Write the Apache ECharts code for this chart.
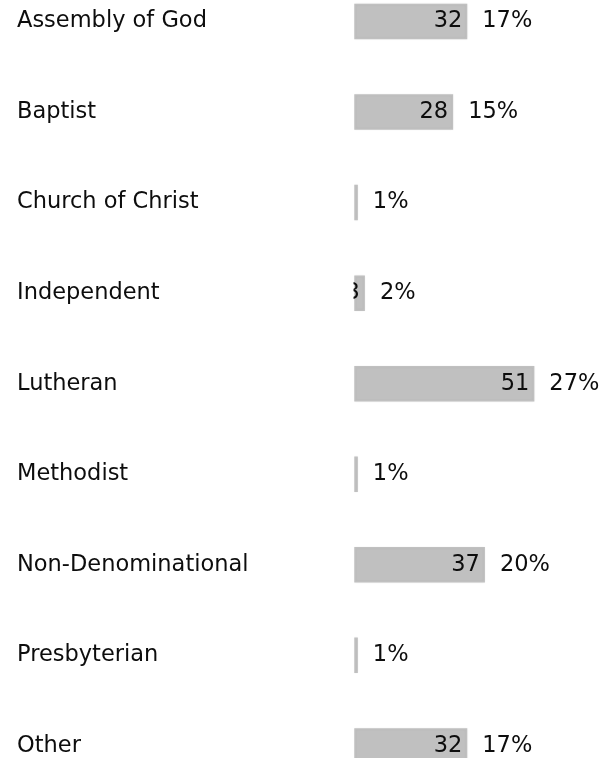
<!DOCTYPE html>
<html><head><meta charset="utf-8">
<script src="https://cdn.jsdelivr.net/npm/echarts@6/dist/echarts.min.js"></script>
<style>html,body{margin:0;padding:0;background:#fff}#c{width:607px;height:758px}</style>
</head><body><div id="c"></div>
<script>
const categories = ['Assembly of God','Baptist','Church of Christ','Independent','Lutheran','Methodist','Non-Denominational','Presbyterian','Other'];
const counts = [32, 28, 1, 3, 51, 1, 37, 1, 32];
const percents = [17, 15, 1, 2, 27, 1, 20, 1, 17];

const FONT = '"DejaVu Sans", sans-serif';
const FS = 22.5;
const chart = echarts.init(document.getElementById('c'));
chart.setOption({
  animation: false,
  backgroundColor: '#ffffff',
  grid: { left: 354.3, top: -23.8, height: 815, width: 247.1, containLabel: false, outerBoundsMode: 'none' },
  xAxis: { type: 'value', min: 0, max: 70, show: false, splitLine: { show: false } },
  yAxis: {
    type: 'category', data: categories, inverse: true,
    axisLine: { show: false }, axisTick: { show: false }, splitLine: { show: false },
    axisLabel: { align: 'left', margin: 337.3, fontSize: FS, color: '#0d0d0d', fontFamily: FONT }
  },
  series: [
    {
      type: 'bar', data: counts, barWidth: 35.5, z: 2,
      itemStyle: { color: '#c0c0c0', borderColor: '#c0c0c0', borderWidth: 1.5, shadowColor: 'rgba(0,0,0,0.06)', shadowBlur: 2 },
      label: { show: true, position: 'insideRight', distance: 5, formatter: '{c}', fontSize: FS, color: '#0d0d0d', fontFamily: FONT }
    },
    {
      type: 'bar', data: counts, barWidth: 35.5, barGap: '-100%', silent: true, z: 1,
      itemStyle: { color: 'rgba(0,0,0,0)' },
      label: { show: true, position: 'right', distance: 15, formatter: p => percents[p.dataIndex] + '%', fontSize: FS, color: '#0d0d0d', fontFamily: FONT }
    }
  ],
  graphic: [
    { type: 'rect', z: 100, shape: { x: 290, y: 0, width: 63.5, height: 758 }, style: { fill: '#ffffff' } }
  ]
});
</script>
</body></html>
